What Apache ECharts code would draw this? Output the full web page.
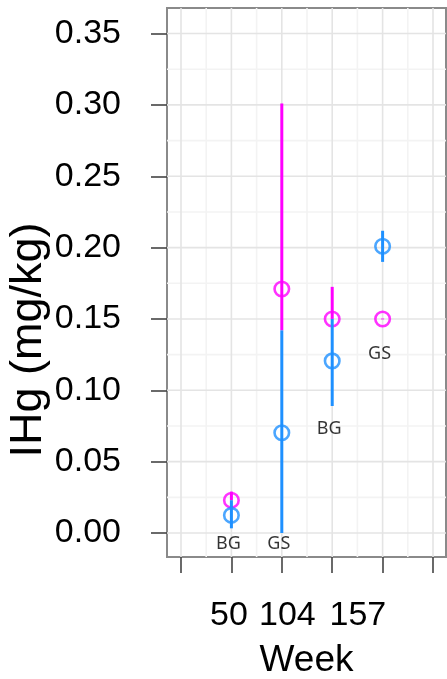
<!DOCTYPE html>
<html>
<head>
<meta charset="utf-8">
<script src="https://cdn.jsdelivr.net/npm/echarts@6/dist/echarts.min.js"></script>
<style>
html,body{margin:0;padding:0;background:#fff;}
#chart{width:447px;height:679px;}
</style>
</head>
<body>
<div id="chart"></div>
<script>
// ---- data ----
const groups = ['BG', 'GS', 'BG', 'GS'];
const xPos = [1, 2, 3, 4];
const magentaMean = [0.023, 0.171, 0.150, 0.150];
const magentaLow  = [0.023, 0.142, 0.150, 0.1497];
const magentaHigh = [0.029, 0.301, 0.1725, 0.1503];
const blueMean = [0.0124, 0.0703, 0.1206, 0.2009];
const blueLow  = [0.0033, 0.000, 0.089, 0.190];
const blueHigh = [0.023, 0.142, 0.150, 0.2118];
const annotY = [-0.0077, -0.0077, 0.0729, 0.1255];
const weekLabels = ['50', '104', '157'];
const yTicks = [0, 0.05, 0.10, 0.15, 0.20, 0.25, 0.30, 0.35];
const xTicks = [0, 1, 2, 3, 4, 5];

// ---- build ----
const weekLabelAt = [0.95, 2.11, 3.51];
const yMinor = yTicks.slice(0, -1).map(v => v + 0.025);
const xMinor = xTicks.slice(0, -1).map(v => v + 0.5);

const MAG = '#FF00FF', BLUE = '#1E90FF';

function errData(lo, hi) { return xPos.map((x, i) => [x, lo[i], hi[i]]); }
function ptData(m) { return xPos.map((x, i) => [x, m[i]]); }

function errSeries(lo, hi, color, z) {
  return {
    type: 'custom', z: z, silent: true,
    data: errData(lo, hi),
    renderItem(params, api) {
      const x = api.value(0);
      const p1 = api.coord([x, api.value(1)]);
      const p2 = api.coord([x, api.value(2)]);
      return { type: 'line', shape: { x1: p1[0], y1: p1[1], x2: p2[0], y2: p2[1] },
               style: { stroke: color, lineWidth: 3 } };
    }
  };
}
function ptSeries(m, color, z) {
  return {
    type: 'scatter', z: z, silent: true,
    data: ptData(m), symbol: 'circle', symbolSize: 14.5,
    itemStyle: { color: 'rgba(0,0,0,0)', borderColor: color, borderWidth: 2.6 }
  };
}
function gridSeries(vals, dir, color) {
  return {
    type: 'custom', z: 0, silent: true,
    data: vals.map(v => [v]),
    renderItem(params, api) {
      const cs = params.coordSys;
      const v = api.value(0);
      if (dir === 'h') {
        const p = api.coord([0, v]);
        return { type: 'line', shape: { x1: cs.x, y1: p[1], x2: cs.x + cs.width, y2: p[1] },
                 style: { stroke: color, lineWidth: 1.6 } };
      } else {
        const p = api.coord([v, 0]);
        return { type: 'line', shape: { x1: p[0], y1: cs.y, x2: p[0], y2: cs.y + cs.height },
                 style: { stroke: color, lineWidth: 1.6 } };
      }
    }
  };
}

const chart = echarts.init(document.getElementById('chart'));
chart.setOption({
  animation: false,
  backgroundColor: '#fff',
  grid: { left: 167, top: 8, right: 1, bottom: 122, containLabel: false, outerBoundsMode: 'none',
          show: true, borderColor: '#8a8a8a', borderWidth: 2, backgroundColor: '#fff' },
  xAxis: {
    type: 'value', min: -0.278, max: 5.258,
    axisLine: { show: false, onZero: false },
    splitLine: { show: false },
    axisTick: { show: true, inside: false, customValues: xTicks, length: 16, lineStyle: { color: '#444', width: 1.6 } },
    axisLabel: {
      customValues: weekLabelAt, margin: 42,
      fontFamily: 'Liberation Sans', fontSize: 34, color: '#000',
      formatter: function (v) {
        for (let i = 0; i < weekLabelAt.length; i++) if (Math.abs(v - weekLabelAt[i]) < 1e-6) return weekLabels[i];
        return '';
      }
    },
    name: 'Week', nameLocation: 'middle', nameGap: 85,
    nameTextStyle: { fontFamily: 'Liberation Sans', fontSize: 37, color: '#000' }
  },
  yAxis: {
    type: 'value', min: -0.0168, max: 0.3679,
    axisLine: { show: false, onZero: false },
    splitLine: { show: false },
    axisTick: { show: true, inside: false, customValues: yTicks, length: 16, lineStyle: { color: '#444', width: 1.6 } },
    axisLabel: {
      customValues: yTicks, margin: 46,
      fontFamily: 'Liberation Sans', fontSize: 34, color: '#000',
      formatter: v => v.toFixed(2)
    }
  },
  graphic: [{
    type: 'text', x: 29, y: 340, rotation: Math.PI / 2,
    style: { text: 'IHg (mg/kg)', font: '45px "Liberation Sans"', fill: '#000', align: 'center', verticalAlign: 'middle' }
  }],
  series: [
    gridSeries(yMinor, 'h', '#f3f3f3'),
    gridSeries(xMinor, 'v', '#f3f3f3'),
    gridSeries(yTicks, 'h', '#e4e4e4'),
    gridSeries(xTicks, 'v', '#e4e4e4'),
    errSeries(magentaLow, magentaHigh, MAG, 2),
    ptSeries(magentaMean, MAG, 3),
    errSeries(blueLow, blueHigh, BLUE, 4),
    ptSeries(blueMean, BLUE, 5),
    {
      type: 'scatter', z: 6, silent: true, symbolSize: 0,
      data: xPos.map((x, i) => ({ value: [x, annotY[i]], label: { formatter: groups[i] } })),
      label: { show: true, position: 'inside', offset: [-3, 0], color: '#000',
               fontFamily: 'Noto Sans', fontSize: 18 }
    }
  ]
});
</script>
</body>
</html>
